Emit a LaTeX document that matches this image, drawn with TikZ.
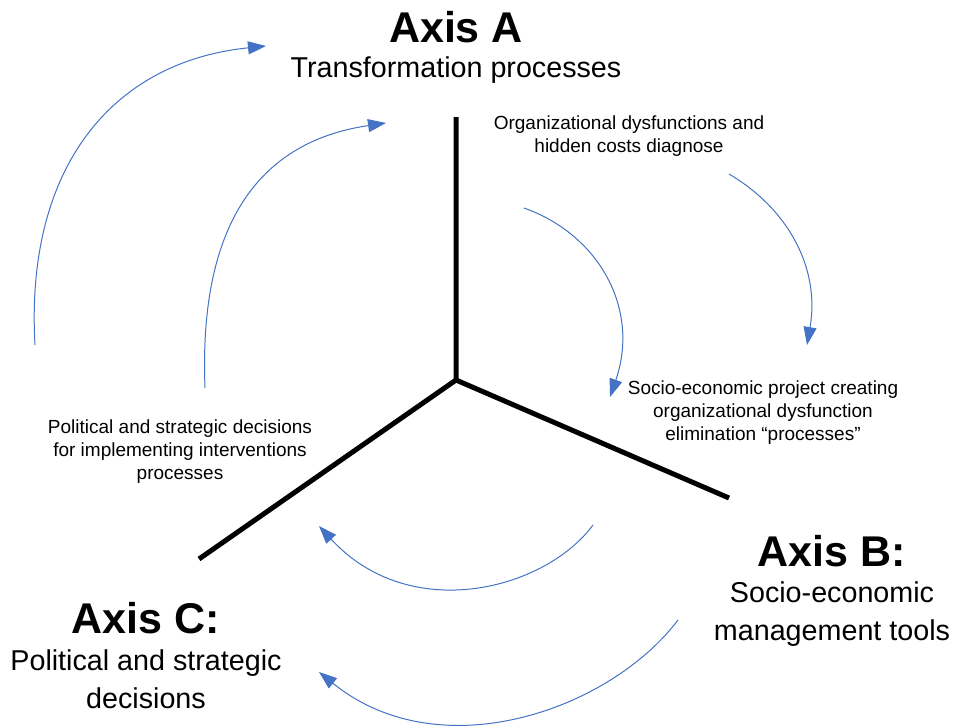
\documentclass[tikz,border=0pt]{standalone}
\usepackage{fontspec}
\setmainfont{Liberation Sans}
\usetikzlibrary{arrows.meta}
\definecolor{arrowblue}{RGB}{68,114,196}
\tikzset{
  axisline/.style={line width=5pt, line cap=butt},
  flow/.style={arrowblue, line width=1pt, -{Triangle[length=18pt,width=13pt]}},
  axistitle/.style={font=\fontsize{43}{46}\selectfont\bfseries, inner sep=0pt},
  axissub/.style={font=\fontsize{28.7}{38}\selectfont, align=center, inner sep=0pt},
  smalltxt/.style={font=\fontsize{19}{23}\selectfont, align=center, inner sep=0pt}
}
\begin{document}
\begin{tikzpicture}[x=1pt,y=-1pt]
\useasboundingbox (0,0) rectangle (956,726);
% axes
\coordinate (O) at (456,380);
\coordinate (Atop) at (456,117);
\coordinate (Bend) at (729,498);
\coordinate (Cend) at (199,559);
\draw[axisline] (Atop) -- (O) -- (Bend);
\draw[axisline] (O) -- (Cend);
% titles
\node[axistitle] (ta) at (456,27) {Axis A};
\node[axissub] (sa) at (456,70) {Transformation processes};
\node[axistitle] (tb) at (832,551) {Axis B:};
\node[axissub] (sb) at (832,614) {Socio-economic\\management tools};
\node[axistitle] (tc) at (146,618) {Axis C:};
\node[axissub] (sc) at (146,679) {Political and strategic\\decisions};
% small labels
\node[smalltxt] (l1) at (629,136) {Organizational dysfunctions and\\hidden costs diagnose};
\node[smalltxt] (l2) at (763,413) {Socio-economic project creating\\organizational dysfunction\\elimination “processes”};
\node[smalltxt] (l3) at (180,452) {Political and strategic decisions\\for implementing interventions\\processes};
% arrow endpoints
\coordinate (a1s) at (35,345);   \coordinate (a1e) at (266,46);
\coordinate (a2s) at (205,388);  \coordinate (a2e) at (386,123);
\coordinate (a3s) at (524,208);  \coordinate (a3e) at (610,397);
\coordinate (a4s) at (729,174);  \coordinate (a4e) at (807,345);
\coordinate (a5s) at (593,525);  \coordinate (a5e) at (319,526);
\coordinate (a6s) at (678,620);  \coordinate (a6e) at (319,672);
\draw[flow] (a1s) .. controls (25,170) and (110,62) .. (a1e);
\draw[flow] (a2s) .. controls (198,210) and (270,140) .. (a2e);
\draw[flow] (a3s) .. controls (600,235) and (640,310) .. (a3e);
\draw[flow] (a4s) .. controls (790,210) and (820,270) .. (a4e);
\draw[flow] (a5s) .. controls (545,590) and (410,625) .. (a5e);
\draw[flow] (a6s) .. controls (610,710) and (440,770) .. (a6e);
\end{tikzpicture}
\end{document}
